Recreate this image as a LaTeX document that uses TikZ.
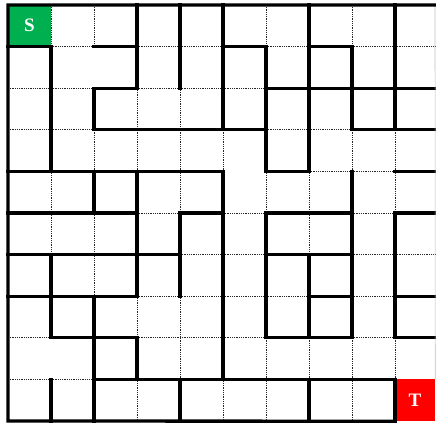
\documentclass[tikz,border=0pt]{standalone}
\usepackage{fontspec}
\setmainfont{Liberation Serif}
\definecolor{startGreen}{RGB}{0,176,80}
\definecolor{goalRed}{RGB}{255,0,0}
\tikzset{
  wall/.style={line width=3.3pt, line cap=rect},
  openline/.style={black!85, line width=1pt, dash pattern=on 1pt off 0.8pt},
  endcell/.style={inner sep=0pt, minimum height=41.6pt, text=white,
    font=\bfseries\fontsize{19}{19}\selectfont}
}

\begin{document}
\begin{tikzpicture}[x=43pt, y=-41.6pt]
    \useasboundingbox (-0.186,-0.12) rectangle (9.953,10.048);
    \clip (-0.186,-0.12) rectangle (9.953,10.048);
    % start and goal cells
    \node[endcell, fill=startGreen, minimum width=43pt] (start) at (0.5,0.5) {S};
    \node[endcell, fill=goalRed, minimum width=40pt] (goal) at (9.465,9.5) {T};
    % open (dotted) grid lines
    \foreach \j/\cols in {1/{1,3,4,6,8,9}, 2/{0,1,3,4,5}, 3/{0,1,6,7}, 4/{7,8},
        5/{3,5,8}, 6/{4,5,8,9}, 7/{3,4,5,6,8}, 8/{0,3,4,5,8}, 9/{0,1}}
      \foreach \c in \cols
        \draw[openline] (\c,\j) -- ++(1,0);
    \foreach \i/\rows in {1/{0,4,5}, 2/{0,3,5,6}, 3/{2,3,7,9}, 4/{2,3,4,7,8},
        5/{3,9}, 6/{0,4,8,9}, 7/{4,5,8}, 8/{0,3,8,9}, 9/{3,4,8}}
      \foreach \r in \rows
        \draw[openline] (\i,\r) -- ++(0,1);
    % walls
    \foreach \j/\cols in {1/{0,2,5,7}, 2/{2,6,7,8,9}, 3/{2,3,4,5,8,9},
        4/{0,1,2,3,4,6,9}, 5/{0,1,2,4,6,7,9}, 6/{0,1,2,3,6,7},
        7/{0,1,2,7,9}, 8/{1,2,6,7,9}, 9/{2,3,4,5,6,7,8}}
      \foreach \c in \cols
        \draw[wall] (\c,\j) -- ++(1,0);
    \foreach \i/\rows in {1/{1,2,3,6,7,9}, 2/{2,4,7,8,9}, 3/{0,1,4,5,6,8},
        4/{0,1,5,6,9}, 5/{0,1,2,4,5,6,7,8}, 6/{1,2,3,5,6,7},
        7/{0,1,2,3,6,7,9}, 8/{1,2,4,5,6,7}, 9/{0,1,2,5,6,7,9}}
      \foreach \r in \rows
        \draw[wall] (\i,\r) -- ++(0,1);
    % border
    \draw[black!25, line width=0.6pt] (9.93,0) -- (goal.north east);
    \draw[wall] (9.953,0) -- (0,0) -- (0,10) -- (goal.south west);
\end{tikzpicture}
\end{document}
